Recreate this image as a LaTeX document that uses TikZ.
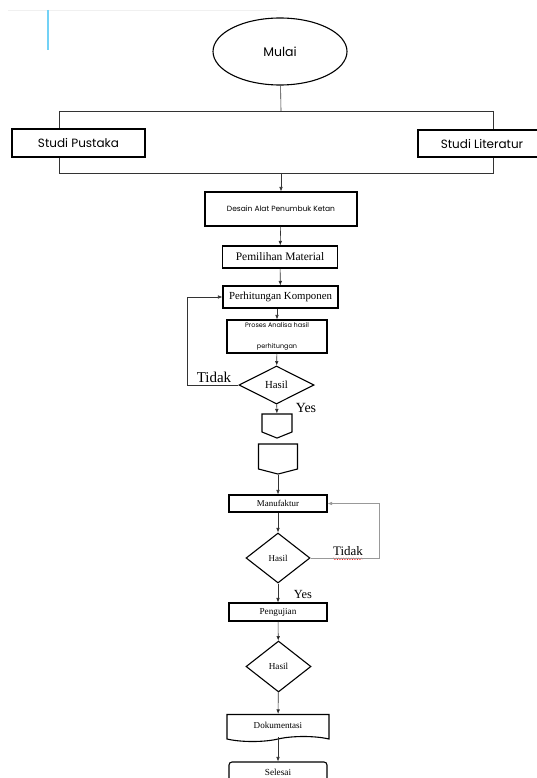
\documentclass[tikz,border=0pt]{standalone}
\usepackage{fontspec}
\setmainfont{Liberation Serif}
\newfontfamily\gothic{Poppins}
\usetikzlibrary{shapes}
\usetikzlibrary{shapes.geometric}
\usetikzlibrary{shapes.symbols}
\usetikzlibrary{arrows.meta}
\usetikzlibrary{decorations.pathmorphing}
\tikzset{
    boxs/.style = {rectangle, draw=black, line width=1.1pt, inner sep=0pt, align=center},
    boxt/.style = {rectangle, draw=black, line width=1.1pt, inner sep=0pt, align=center},
    mydiamond/.style = {diamond, draw=black, line width=1.1pt, inner sep=0pt, font=\fontsize{9}{10}\selectfont},
    offpage/.style = {signal, signal to=south, signal from=nowhere, draw=black, line width=1.1pt, inner sep=0pt},
    lbl/.style = {inner sep=0pt},
    linen/.style = {line width=0.6pt, draw=black!80},
    edgen/.style = {-{Latex[length=4.5pt,width=3.6pt]}, line width=0.6pt, draw=black!80},
    edgeg/.style = {-{Latex[length=4.5pt,width=3.6pt]}, line width=0.6pt, draw=black!40}, % loop balik manufaktur
}

\begin{document}
\begin{tikzpicture}[x=1pt,y=-1pt]
\useasboundingbox (0,0) rectangle (537,778);
\draw[draw=black!6, line width=0.8pt] (8,10) -- (277,10);
\draw[draw=cyan!55, line width=1.4pt] (48,10) -- (48,50);

\node[ellipse, draw=black, line width=1.1pt, inner sep=0pt, minimum width=134pt, minimum height=67pt, font=\gothic\fontsize{12.5}{14}\selectfont] at (280, 51.5) (mulai) {Mulai};
\node[boxs, minimum width=133pt, minimum height=28pt, font=\gothic\fontsize{12}{14}\selectfont] at (78.5, 143) (pustaka) {Studi Pustaka};
\node[boxs, minimum width=128pt, minimum height=27pt, font=\gothic\fontsize{12}{14}\selectfont] at (482, 143.5) (literatur) {Studi Literatur};

\node[boxs, minimum width=152pt, minimum height=34pt, font=\gothic\fontsize{7.5}{9}\selectfont] at (281, 209) (desain) {Desain Alat Penumbuk Ketan};
\node[boxt, minimum width=115pt, minimum height=22pt, font=\fontsize{11.5}{13}\selectfont] at (280, 257) (pemilihan) {Pemilihan Material};
\node[boxt, minimum width=115pt, minimum height=22pt, font=\fontsize{10.8}{13}\selectfont] at (280.5, 297) (perhitungan) {Perhitungan Komponen};
\node[boxs, minimum width=100pt, minimum height=33pt, font=\gothic\fontsize{6.5}{21}\selectfont] at (277, 336.5) (proses) {Proses Analisa hasil\\perhitungan};
\node[mydiamond, minimum width=75pt, minimum height=38pt, font=\fontsize{10.8}{12}\selectfont] at (276.5, 385) (hasil1) {Hasil};

\node[offpage, minimum width=30pt, minimum height=18pt, signal pointer angle=136] at (277, 423) (off1) {};
\node[offpage, minimum width=39pt, minimum height=25pt, signal pointer angle=151] at (278, 456.5) (off2) {};

\node[boxt, minimum width=98pt, minimum height=17pt, font=\fontsize{8.9}{10}\selectfont] at (278, 503.5) (manufaktur) {Manufaktur};
\node[mydiamond, minimum width=64pt, minimum height=50pt] at (278, 558) (hasil2) {Hasil};
\node[boxt, minimum width=98pt, minimum height=18pt, font=\fontsize{9.2}{10}\selectfont] at (278, 612) (pengujian) {Pengujian};
\node[mydiamond, minimum width=65pt, minimum height=51pt, font=\fontsize{9.2}{10}\selectfont] at (278.5, 666.5) (hasil3) {Hasil};
\node[tape, tape bend top=none, tape bend bottom=in and out, tape bend height=5pt, draw=black, line width=1.1pt, inner sep=0pt, minimum width=102pt, minimum height=27pt, font=\fontsize{9.1}{10}\selectfont] at (278, 725.5) (dokumentasi) {Dokumentasi};
\node[boxt, rounded corners=3pt, minimum width=98pt, minimum height=20pt, font=\fontsize{9.3}{10}\selectfont] at (278, 772) (selesai) {Selesai};

\node[lbl, font=\fontsize{15}{16}\selectfont] at (214, 377) (tidak1) {Tidak};
\node[lbl, font=\fontsize{14}{15}\selectfont] at (306, 408) (yes1) {Yes};
\node[lbl, font=\fontsize{13}{14}\selectfont] at (348, 551) (tidak2) {Tidak};
\node[lbl, font=\fontsize{12.4}{13}\selectfont] at (303, 594) (yes2) {Yes};
\draw[red, line width=0.6pt, decorate, decoration={snake, amplitude=0.7pt, segment length=2.5pt}] ([yshift=-3pt]tidak2.south west) -- ([yshift=-3pt]tidak2.south east);

\coordinate (split) at (281, 111);
\coordinate (splitL) at (59, 111);
\coordinate (splitR) at (493, 111);
\coordinate (join) at (281, 173);
\coordinate (joinL) at (59, 173);
\coordinate (joinR) at (493, 173);
\coordinate (loopL) at (187, 385);
\coordinate (loopR) at (379, 558);
%
\draw[linen] (mulai) -- (split);
\draw[linen] (splitL) -- (splitR);
\draw[linen] (splitL) -- (splitL |- pustaka.north);
\draw[linen] (splitR) -- (splitR |- literatur.north);
\draw[linen] (joinL |- pustaka.south) -- (joinL) -- (joinR) -- (joinR |- literatur.south);
\draw[edgen] (join) -- (desain);
\draw[edgen] (desain) edge (pemilihan);
\draw[edgen] (pemilihan) edge (perhitungan);
\draw[edgen] (perhitungan.south -| proses.north) -- (proses.north);
\draw[edgen] (proses) edge (hasil1);
\draw[edgen] (hasil1.west) -- (loopL) |- (perhitungan.west);
\draw[edgen] (hasil1) edge (off1);
\draw[edgen] (off2.south) -- (manufaktur.north);
\draw[edgen] (manufaktur) edge (hasil2);
\draw[edgeg] (hasil2.east) -- (loopR) |- (manufaktur.east);
\draw[edgen] (hasil2) edge (pengujian);
\draw[edgen] (pengujian) edge (hasil3);
\draw[edgen] (hasil3) edge (dokumentasi);
\draw[edgen] (dokumentasi.south) -- (selesai.north);
\end{tikzpicture}
\end{document}
